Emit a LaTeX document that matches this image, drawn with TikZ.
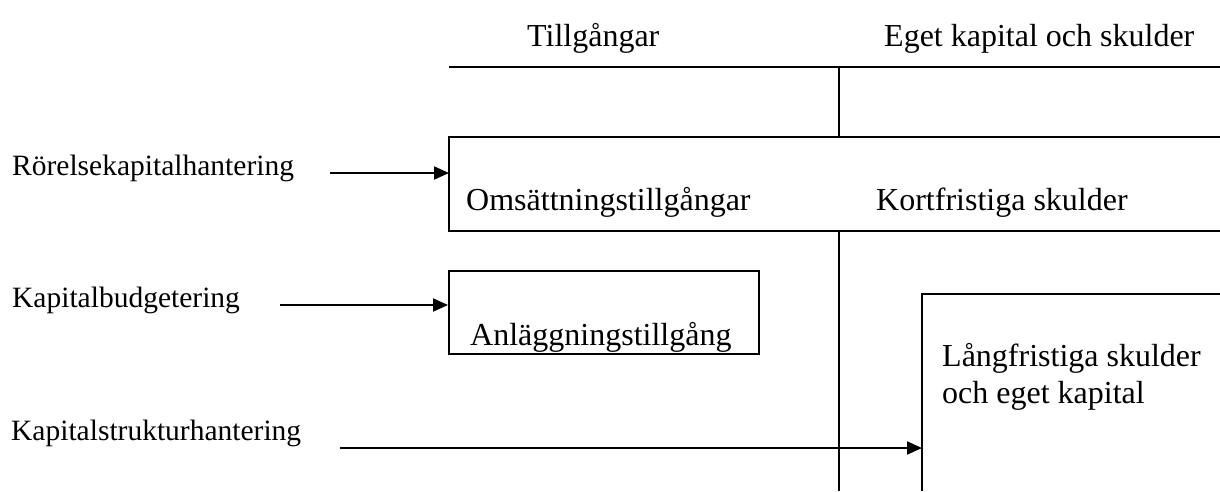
\documentclass[tikz,border=0pt]{standalone}
\usepackage{fontspec}
\setmainfont{Liberation Serif}
\usetikzlibrary{arrows.meta}
\begin{document}
\begin{tikzpicture}[x=1pt,y=-1pt,
  ln/.style={line width=2pt},
  arr/.style={line width=2pt,-{Triangle[length=15pt,width=13pt]}},
  big/.style={inner sep=0pt,anchor=base west,font=\fontsize{32}{37}\selectfont},
  side/.style={inner sep=0pt,anchor=base west,font=\fontsize{29.5}{34}\selectfont}]
\useasboundingbox (0,0) rectangle (1220,491);
% headings
\node[big] (till) at (527,46) {Tillgångar};
\node[big] (eget) at (884,46) {Eget kapital och skulder};
% frame lines
\coordinate (topL) at (449,67);
\coordinate (topR) at (1220,67);
\coordinate (midT) at (839,67);
\draw[ln] (topL) -- (topR);
% current box (open on the right)
\coordinate (omsTL) at (449,137);
\coordinate (omsBL) at (449,231);
\coordinate (omsTR) at (1220,137);
\coordinate (omsBR) at (1220,231);
\draw[ln] (omsTR) -- (omsTL) -- (omsBL) -- (omsBR);
\draw[ln] (midT) -- (midT |- omsTL);
\coordinate (midB) at (839,491);
\draw[ln] (midB |- omsBL) -- (midB);
\node[big] (oms) at (466,210) {Omsättningstillgångar};
\node[big] (kort) at (876,210) {Kortfristiga skulder};
% fixed assets box
\node[draw,line width=2pt,minimum width=310pt,minimum height=83pt,inner sep=0pt] (anl) at (604,312.5) {};
\begin{scope}
\clip (450,272) rectangle (758,353);
\node[big] (anltxt) at (470,345) {Anläggningstillgång};
\end{scope}
% long-term box (open right and bottom)
\coordinate (lngTL) at (922,294);
\coordinate (lngTR) at (1220,294);
\coordinate (lngB) at (922,491);
\draw[ln] (lngTR) -- (lngTL) -- (lngB);
\node[big] (lng1) at (942,366) {Långfristiga skulder};
\node[big] (lng2) at (942,403) {och eget kapital};
% side labels and arrows
\node[side] (rk) at (12,175) {Rörelsekapitalhantering};
\node[side] (kb) at (12,307) {Kapitalbudgetering};
\node[side] (ks) at (11,440) {Kapitalstrukturhantering};
\coordinate (a1s) at (330,173);
\coordinate (a2s) at (280,305);
\coordinate (a3s) at (340,448);
\draw[arr] (a1s) -- (a1s -| omsTL);
\draw[arr] (a2s) -- (a2s -| anl.west);
\draw[arr] (a3s) -- (a3s -| lngTL);
\end{tikzpicture}
\end{document}
